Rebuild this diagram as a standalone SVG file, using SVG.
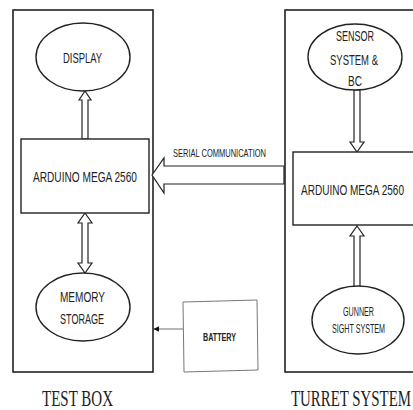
<svg xmlns="http://www.w3.org/2000/svg" width="413" height="410" viewBox="0 0 413 410">
<style>
.box{fill:none;stroke:#222;stroke-width:1.6}
.node{fill:#fff;stroke:#222;stroke-width:1.4}
.arr{fill:#fff;stroke:#222;stroke-width:1.2;stroke-linejoin:miter}
.t{font-family:"Liberation Sans",Arial,sans-serif;fill:#222;text-anchor:start}
.cap{font-family:"Liberation Serif","Times New Roman",serif;font-size:24px;fill:#222}
</style>
<defs>
<marker id="head" viewBox="0 0 10 10" refX="9" refY="5" markerWidth="5" markerHeight="5" orient="auto">
<path d="M0,0 L10,5 L0,10 z" fill="#111"/>
</marker>
</defs>
<rect width="413" height="410" fill="#fff"/>
<g id="test-box">
<rect class="box" x="13" y="10" width="140" height="362"/>
<text class="cap" x="42" y="406" textLength="71" lengthAdjust="spacingAndGlyphs">TEST BOX</text>
</g>
<g id="turret-system">
<rect class="box" x="285" y="10" width="150" height="362"/>
<text class="cap" x="291" y="406" textLength="120" lengthAdjust="spacingAndGlyphs">TURRET SYSTEM</text>
</g>
<g id="connectors">
<polygon class="arr" points="85,91 91,100 88,100 88,139 82,139 82,100 79,100"/>
<polygon class="arr" points="85,213 92,223 88,223 88,263 92,263 85,273 78,263 82,263 82,223 78,223"/>
<polygon class="arr" points="354,90 360,90 360,142 364,142 357,152 350,142 354,142"/>
<polygon class="arr" points="357,226 364,236 360,236 360,287 354,287 354,236 350,236"/>
<polygon class="arr" points="152,175 164,158 164,166 284,166 284,184 164,184 164,193"/>
<line x1="183" y1="329" x2="154" y2="329" stroke="#888" stroke-width="1.2" marker-end="url(#head)"/>
<text class="t" x="173" y="157" font-size="11" textLength="93" lengthAdjust="spacingAndGlyphs">SERIAL COMMUNICATION</text>
</g>
<g id="display">
<ellipse class="node" cx="83" cy="57" rx="47" ry="34"/>
<text class="t" x="63" y="63" font-size="14" textLength="39" lengthAdjust="spacingAndGlyphs">DISPLAY</text>
</g>
<g id="arduino-left">
<rect class="node" x="21" y="139" width="128" height="74"/>
<text class="t" x="33" y="182" font-size="14" textLength="104" lengthAdjust="spacingAndGlyphs">ARDUINO MEGA 2560</text>
</g>
<g id="memory">
<ellipse class="node" cx="83" cy="307" rx="47" ry="34"/>
<text class="t" x="60" y="302" font-size="14" textLength="45" lengthAdjust="spacingAndGlyphs">MEMORY</text>
<text class="t" x="60" y="324" font-size="14" textLength="44" lengthAdjust="spacingAndGlyphs">STORAGE</text>
</g>
<g id="battery">
<polygon points="183,302 257,300 258,370 184,372" fill="#fff" stroke="#777" stroke-width="1"/>
<text class="t" x="203" y="341" font-size="10" font-weight="bold" textLength="33" lengthAdjust="spacingAndGlyphs">BATTERY</text>
</g>
<g id="sensor">
<ellipse class="node" cx="355" cy="57" rx="47" ry="33"/>
<text class="t" x="336" y="41" font-size="14" textLength="38" lengthAdjust="spacingAndGlyphs">SENSOR</text>
<text class="t" x="330" y="65" font-size="14" textLength="48" lengthAdjust="spacingAndGlyphs">SYSTEM &amp;</text>
<text class="t" x="348" y="86" font-size="14" textLength="14" lengthAdjust="spacingAndGlyphs">BC</text>
</g>
<g id="arduino-right">
<rect class="node" x="293" y="152" width="140" height="73"/>
<text class="t" x="301" y="195" font-size="14" textLength="103" lengthAdjust="spacingAndGlyphs">ARDUINO MEGA 2560</text>
</g>
<g id="gunner">
<ellipse class="node" cx="358" cy="320" rx="46" ry="34"/>
<text class="t" x="343" y="316" font-size="12" textLength="31" lengthAdjust="spacingAndGlyphs">GUNNER</text>
<text class="t" x="332" y="333" font-size="12" textLength="53" lengthAdjust="spacingAndGlyphs">SIGHT SYSTEM</text>
</g>
</svg>
